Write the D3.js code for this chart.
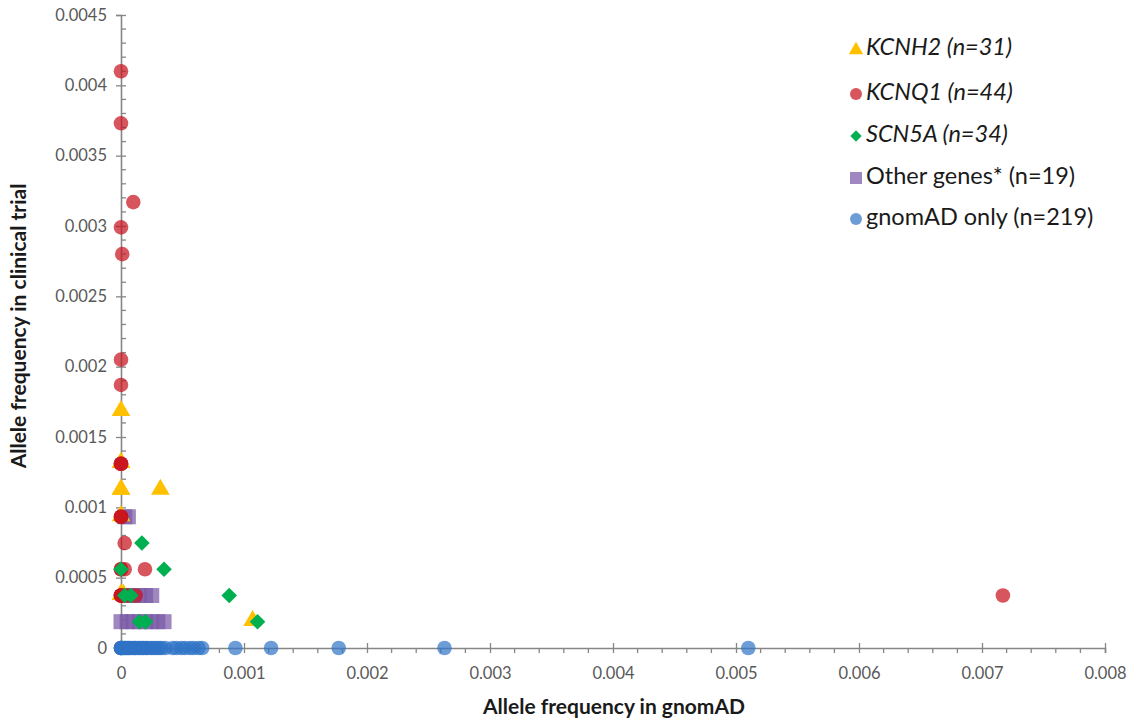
<!DOCTYPE html>
<html>
<head>
<meta charset="utf-8">
<script src="https://cdn.jsdelivr.net/npm/d3@7"></script>
<style>
  body { margin: 0; background: #fff; }
  svg { display: block; font-family: Lato, 'Open Sans', sans-serif; }
</style>
</head>
<body>
<div id="chart"></div>
<script>
// values; y is the frequency in the clinical trial
var kcnh2 = [
    [0, 0.00168], [0, 0.00131], [0, 0.00131], [0, 0.00112], [0, 0.00112],
    [0.00032, 0.00112], [0, 0.000933], [0, 0.000373], [0, 0.000373],
    [0.00002, 0.000373], [0.00107, 0.000187]
];
var kcnq1 = [
    [0, 0.0041], [0, 0.00373], [0.0001, 0.00317], [0, 0.00299], [0.00001, 0.0028],
    [0, 0.00205], [0, 0.00187], [0, 0.00131], [0, 0.00131], [0, 0.00131],
    [0, 0.000933], [0, 0.000933], [0, 0.000933], [0.00003, 0.000746],
    [0, 0.00056], [0, 0.00056], [0.00003, 0.00056], [0.000195, 0.00056],
    [0, 0.000373], [0, 0.000373], [0, 0.000373], [0, 0.000373],
    [0.00003, 0.000373], [0.00006, 0.000373], [0.00012, 0.000373],
    [0.00717, 0.000373]
];
var scn5a = [
    [0.00017, 0.000746], [0, 0.00056], [0.00035, 0.00056], [0.00003, 0.000373],
    [0.00008, 0.000373], [0.00088, 0.000373], [0.00015, 0.000187],
    [0.0002, 0.000187], [0.00111, 0.000187]
];
var otherGenes = [
    [0.00003, 0.000933], [0.00006, 0.000933],
    [0.00005, 0.000373], [0.0001, 0.000373], [0.00015, 0.000373], [0.0002, 0.000373],
    [0.00025, 0.000373],
    [0, 0.000187], [0.00005, 0.000187], [0.0001, 0.000187], [0.00015, 0.000187],
    [0.0002, 0.000187], [0.00025, 0.000187], [0.0003, 0.000187], [0.00035, 0.000187]
];
var gnomadOnly = [
    0, 0, 0, 0, 0.00001, 0.00002, 0.00003, 0.00004, 0.00005, 0.00006, 0.00007, 0.00008,
    0.0001, 0.00011, 0.00012, 0.00014, 0.00015, 0.00017, 0.00018, 0.0002, 0.00021,
    0.00023, 0.00025, 0.00027, 0.00029, 0.00031, 0.00033, 0.00036, 0.00042, 0.00045,
    0.00049, 0.00052, 0.00056, 0.00059, 0.00063, 0.00066, 0.00093, 0.00122, 0.00177,
    0.00263, 0.0051
];
var xTicks = [0, 0.001, 0.002, 0.003, 0.004, 0.005, 0.006, 0.007, 0.008];
var yTicks = [0, 0.0005, 0.001, 0.0015, 0.002, 0.0025, 0.003, 0.0035, 0.004, 0.0045];
var legendLabels = [
    { name: 'KCNH2', n: ' (n=31)', italic: true },
    { name: 'KCNQ1', n: ' (n=44)', italic: true },
    { name: 'SCN5A', n: ' (n=34)', italic: true },
    { name: 'Other genes*', n: ' (n=19)', italic: false },
    { name: 'gnomAD only', n: ' (n=219)', italic: false }
];

const W = 1143, H = 726;
const axisColor = '#868686';
const labelColor = '#595959';
const red = '#C8141E', blue = '#2F74C6', purple = '#7A5AA6';

var svg = d3.select('#chart')
    .append('svg')
    .attr('width', W)
    .attr('height', H);

var x = d3.scaleLinear().domain([0, 0.008]).range([121, 1105]);
var y = d3.scaleLinear().domain([0, 0.0045]).range([648, 15]);

// minor ticks
var xMinor = d3.range(1, 40).map(i => i * 0.0002).filter(v => Math.abs(v / 0.001 - Math.round(v / 0.001)) > 1e-6);
var yMinor = d3.range(1, 45).map(i => i * 0.0001).filter(v => Math.abs(v / 0.0005 - Math.round(v / 0.0005)) > 1e-6);

var xAxis = svg.append('g')
    .attr('transform', 'translate(0,' + y(0) + ')')
    .call(d3.axisBottom(x).tickValues(xTicks).tickSize(5).tickPadding(14)
        .tickFormat(d => d === 0 ? '0' : d3.format('.3~f')(d)));
xAxis.selectAll('.tick line').attr('y1', -5);
xAxis.append('g').selectAll('line')
    .data(xMinor)
    .enter()
    .append('line')
    .attr('x1', d => x(d))
    .attr('x2', d => x(d))
    .attr('y1', 0)
    .attr('y2', 5)
    .attr('stroke', axisColor)
    .attr('stroke-width', 1.3);

var yAxis = svg.append('g')
    .attr('transform', 'translate(' + x(0) + ',0)')
    .call(d3.axisLeft(y).tickValues(yTicks).tickSize(5).tickPadding(9)
        .tickFormat(d => d === 0 ? '0' : d3.format('~f')(+d.toFixed(4))));
yAxis.selectAll('.tick line').attr('x1', 5);
yAxis.append('g').selectAll('line')
    .data(yMinor)
    .enter()
    .append('line')
    .attr('x1', 0)
    .attr('x2', 5)
    .attr('y1', d => y(d))
    .attr('y2', d => y(d))
    .attr('stroke', axisColor)
    .attr('stroke-width', 1.3);

[xAxis, yAxis].forEach(function(a) {
    a.select('.domain').attr('stroke', axisColor).attr('stroke-width', 1.6);
    a.selectAll('.tick line').attr('stroke', axisColor).attr('stroke-width', 1.3);
    a.selectAll('.tick text')
        .attr('fill', labelColor)
        .attr('font-family', 'Lato, sans-serif')
        .attr('font-size', '16.5px');
});

// axis titles
svg.append('text')
    .attr('x', 614)
    .attr('y', 714)
    .attr('text-anchor', 'middle')
    .attr('font-weight', 'bold')
    .attr('font-size', '21px')
    .attr('fill', '#1a1a1a')
    .text('Allele frequency in gnomAD');

svg.append('text')
    .attr('transform', 'translate(26,326) rotate(-90)')
    .attr('text-anchor', 'middle')
    .attr('font-weight', 'bold')
    .attr('font-size', '21px')
    .attr('fill', '#1a1a1a')
    .text('Allele frequency in clinical trial');

// marks
var sym = {
    triangle: d3.symbol().type(d3.symbolTriangle).size(150),
    diamond: d3.symbol().type(d3.symbolSquare).size(121),
    square: d3.symbol().type(d3.symbolSquare).size(225)
};

var plot = svg.append('g');

plot.selectAll('.other')
    .data(otherGenes)
    .enter()
    .append('path')
    .attr('class', 'other')
    .attr('d', sym.square)
    .attr('transform', d => 'translate(' + x(d[0]) + ',' + y(d[1]) + ')')
    .attr('fill', purple)
    .attr('fill-opacity', 0.72);

plot.selectAll('.kcnh2')
    .data(kcnh2)
    .enter()
    .append('path')
    .attr('class', 'kcnh2')
    .attr('d', sym.triangle)
    .attr('transform', d => 'translate(' + x(d[0]) + ',' + (y(d[1]) - 1) + ')')
    .attr('fill', '#FFC000');

plot.selectAll('.kcnq1')
    .data(kcnq1)
    .enter()
    .append('circle')
    .attr('class', 'kcnq1')
    .attr('cx', d => x(d[0]))
    .attr('cy', d => y(d[1]))
    .attr('r', 7.3)
    .attr('fill', red)
    .attr('fill-opacity', 0.72);

plot.selectAll('.scn5a')
    .data(scn5a)
    .enter()
    .append('path')
    .attr('class', 'scn5a')
    .attr('d', sym.diamond)
    .attr('transform', d => 'translate(' + x(d[0]) + ',' + y(d[1]) + ') rotate(45)')
    .attr('fill', '#00B050');

plot.selectAll('.gnomad')
    .data(gnomadOnly)
    .enter()
    .append('circle')
    .attr('class', 'gnomad')
    .attr('cx', d => x(d))
    .attr('cy', y(0))
    .attr('r', 7.3)
    .attr('fill', blue)
    .attr('fill-opacity', 0.7);

// legend
var legend = svg.append('g').attr('transform', 'translate(856,0)');
var legendY = [49, 94, 136, 178, 219];

legend.append('path').attr('d', d3.symbol().type(d3.symbolTriangle).size(90))
    .attr('transform', 'translate(0,' + (legendY[0] + 1) + ')').attr('fill', '#FFC000');
legend.append('circle').attr('cx', 0).attr('cy', legendY[1]).attr('r', 6)
    .attr('fill', red).attr('fill-opacity', 0.72);
legend.append('path').attr('d', d3.symbol().type(d3.symbolSquare).size(64))
    .attr('transform', 'translate(0,' + legendY[2] + ') rotate(45)').attr('fill', '#00B050');
legend.append('path').attr('d', d3.symbol().type(d3.symbolSquare).size(144))
    .attr('transform', 'translate(0,' + legendY[3] + ')').attr('fill', purple).attr('fill-opacity', 0.72);
legend.append('circle').attr('cx', 0).attr('cy', legendY[4]).attr('r', 6)
    .attr('fill', blue).attr('fill-opacity', 0.7);

legend.selectAll('.legend-label')
    .data(legendLabels)
    .enter()
    .append('text')
    .attr('class', 'legend-label')
    .attr('x', 10)
    .attr('y', (d, i) => legendY[i])
    .attr('dominant-baseline', 'middle')
    .attr('font-size', '23.5px')
    .attr('fill', '#1a1a1a')
    .attr('font-style', d => d.italic ? 'italic' : 'normal')
    .text(d => d.name + d.n);
</script>
</body>
</html>
